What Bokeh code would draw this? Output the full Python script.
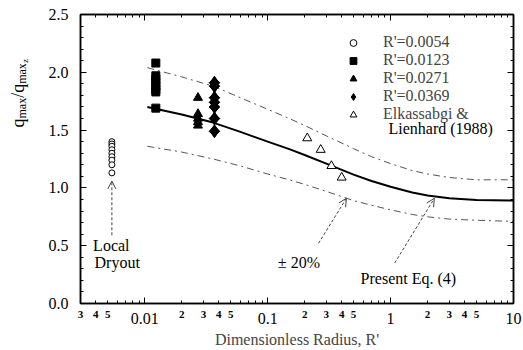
import math
from bokeh.plotting import figure
from bokeh.layouts import row
from bokeh.models import (Range1d, LinearAxis, LogAxis, FixedTicker, Legend, LegendItem,
                          Label, Arrow, OpenHead, NumeralTickFormatter, PrintfTickFormatter,
                          CustomJSTickFormatter)
from bokeh.embed import file_html
from bokeh.resources import INLINE

FONT = "Liberation Serif"

# ---- data ----
r_a = [0.0054] * 9
q_a = [1.40, 1.38, 1.36, 1.33, 1.30, 1.27, 1.24, 1.20, 1.13]

r_b = [0.0123] * 8
q_b = [2.08, 1.97, 1.94, 1.91, 1.88, 1.85, 1.83, 1.69]

r_c = [0.0271] * 5
q_c = [1.78, 1.64, 1.60, 1.57, 1.54]

r_d = [0.0369] * 7
q_d = [1.91, 1.88, 1.78, 1.74, 1.70, 1.60, 1.49]

r_e = [0.21, 0.27, 0.33, 0.40]
q_e = [1.43, 1.33, 1.19, 1.09]

r_curve = [0.0105, 0.02, 0.036, 0.06, 0.1, 0.15, 0.2, 0.3, 0.5, 0.7, 1.0, 1.5, 2.0, 3.0, 5.0, 10.0]
q_curve = [1.70, 1.635, 1.565, 1.485, 1.40, 1.335, 1.285, 1.21, 1.115, 1.06, 1.01, 0.96, 0.935, 0.91, 0.895, 0.89]
q_upper = [2.04, 1.96, 1.88, 1.78, 1.68, 1.60, 1.54, 1.45, 1.34, 1.27, 1.21, 1.15, 1.12, 1.09, 1.07, 1.07]
q_lower = [1.36, 1.31, 1.25, 1.19, 1.12, 1.07, 1.03, 0.97, 0.89, 0.85, 0.81, 0.77, 0.75, 0.73, 0.72, 0.71]

legend_labels = ["R'=0.0054", "R'=0.0123", "R'=0.0271", "R'=0.0369", "Elkassabgi &"]
legend_label_2 = "Lienhard (1988)"

x_major = [0.01, 0.1, 1, 10]
x_minor = [m * d for d in [0.001, 0.01, 0.1, 1] for m in range(2, 10) if 0.003 <= m * d <= 10]
x_minor_labelled = [0.003, 0.004, 0.005, 0.02, 0.03, 0.04, 0.05, 0.2, 0.3, 0.4, 0.5, 2, 3, 4, 5]
x_minor_text = ["3", "4", "5", "2", "3", "4", "5", "2", "3", "4", "5", "2", "3", "4", "5"]
y_major = [0.0, 0.5, 1.0, 1.5, 2.0, 2.5]
y_minor = [i / 10 for i in range(0, 26)]

# ---- narrow strip holding the y axis title q_max / q_max_z ----
lab = figure(width=30, height=350, output_backend="svg", toolbar_location=None,
             x_axis_location=None, y_axis_location=None,
             min_border_left=0, min_border_right=0, min_border_top=0, min_border_bottom=0,
             outline_line_color=None, x_range=Range1d(0, 1), y_range=Range1d(0, 1))
lab.grid.visible = False
ylab = [("q", "18px", 0, 9.0), ("max", "12px", 4, 20.7), ("/", "18px", 0, 5.0),
        ("q", "18px", 0, 9.0), ("max", "12px", 4, 20.7), ("z", "9px", 7, 4.0)]
ypos = 176
for t, fs, dx, adv in ylab:
    lab.add_layout(Label(x=17 + dx, y=ypos, x_units="screen", y_units="screen", text=t,
                         angle=math.pi / 2, text_align="left", text_baseline="alphabetic",
                         text_font=FONT, text_font_size=fs, text_color="black"))
    ypos += adv

# ---- main plot ----
p = figure(width=493, height=350, x_axis_type="log",
           x_range=Range1d(0.003, 10), y_range=Range1d(0, 2.5),
           output_backend="svg", toolbar_location=None,
           min_border_left=50, min_border_right=10, min_border_top=14, min_border_bottom=47,
           outline_line_color="black", outline_line_width=1.5)
p.grid.visible = False

xa = p.xaxis[0]
xa.ticker = FixedTicker(ticks=x_major, minor_ticks=x_minor)
xa.formatter = NumeralTickFormatter(format="0.[00]")
ya = p.yaxis[0]
ya.ticker = FixedTicker(ticks=y_major, minor_ticks=y_minor)
ya.formatter = PrintfTickFormatter(format="%.1f")
for ax in (xa, ya):
    ax.major_tick_in = 6
    ax.major_tick_out = 0
    ax.minor_tick_in = 3
    ax.minor_tick_out = 0
    ax.axis_line_width = 1.5
    ax.major_label_text_font = FONT
    ax.major_label_text_font_size = "16px"
    ax.major_label_text_color = "black"
ya.major_label_standoff = 12
xa.major_label_standoff = 9

# second bottom axis carrying the small in-decade digits
xb = LogAxis(ticker=FixedTicker(ticks=x_minor_labelled, minor_ticks=[]),
             formatter=CustomJSTickFormatter(args=dict(vals=x_minor_labelled, txt=x_minor_text),
                 code="for (let i = 0; i < vals.length; i++) { if (Math.abs(vals[i] - tick) / vals[i] < 1e-6) return txt[i]; } return '';"),
             axis_line_color=None, major_tick_in=0, major_tick_out=0, minor_tick_in=0, minor_tick_out=0,
             major_label_standoff=-16, major_label_text_font=FONT, major_label_text_font_size="11px",
             major_label_text_font_style="bold", major_label_text_color="black")
xb.axis_label = "Dimensionless Radius, R'"
xb.axis_label_text_font = FONT
xb.axis_label_text_font_size = "16px"
xb.axis_label_text_font_style = "normal"
xb.axis_label_standoff = 10
p.add_layout(xb, "below")

top = LogAxis(ticker=FixedTicker(ticks=x_major, minor_ticks=x_minor))
right = LinearAxis(ticker=FixedTicker(ticks=y_major, minor_ticks=y_minor))
for ax in (top, right):
    ax.major_tick_in = 6
    ax.major_tick_out = 0
    ax.minor_tick_in = 3
    ax.minor_tick_out = 0
    ax.axis_line_width = 1.5
    ax.formatter = CustomJSTickFormatter(code="return ''")
    ax.major_label_standoff = 0
p.add_layout(top, "above")
p.add_layout(right, "right")

# lines
p.line(r_curve, q_upper, line_color="#555555", line_width=1, line_dash="7 4 2 4")
p.line(r_curve, q_lower, line_color="#555555", line_width=1, line_dash="7 4 2 4")
p.line(r_curve, q_curve, line_color="black", line_width=2)

# points
ra = p.scatter(r_a, q_a, marker="circle", size=6, fill_color="white", line_color="black", line_width=1)
rb = p.scatter(r_b, q_b, marker="square", size=8, fill_color="black", line_color="black")
rc = p.scatter(r_c, q_c, marker="triangle", size=9, fill_color="black", line_color="black")
# diamond = narrow diamond + rotated square on the same points (widens the shape)
rd = p.scatter(r_d, q_d, marker="diamond", size=13, fill_color="black", line_color="black")
p.scatter(r_d, q_d, marker="square", angle=math.pi / 4, size=7.5, fill_color="black", line_color="black")
re = p.scatter(r_e, q_e, marker="triangle", size=9, fill_color="white", line_color="black", line_width=1)

legend = Legend(items=[LegendItem(label=l, renderers=[r]) for l, r in zip(legend_labels, [ra, rb, rc, rd, re])],
                location=(263, 180), padding=0, margin=0, spacing=0, label_standoff=20,
                glyph_width=20, glyph_height=17, label_height=17,
                label_text_font=FONT, label_text_font_size="16px",
                border_line_color=None, background_fill_alpha=0)
p.add_layout(legend)
p.add_layout(Label(x=308, y=175, x_units="screen", y_units="screen", text=legend_label_2,
                   text_baseline="middle", text_font=FONT, text_font_size="16px", text_color="black"))

# annotations
arrow_kw = dict(line_color="#444444", line_width=1, line_dash="3 2")
p.add_layout(Arrow(end=OpenHead(size=8, line_color="#444444", line_width=1),
                   x_start=0.0054, y_start=0.59, x_end=0.0054, y_end=1.06, **arrow_kw))
p.add_layout(Arrow(end=OpenHead(size=8, line_color="#444444", line_width=1),
                   x_start=0.259, y_start=0.52, x_end=0.437, y_end=0.91, **arrow_kw))
p.add_layout(Arrow(end=OpenHead(size=8, line_color="#444444", line_width=1),
                   x_start=1.08, y_start=0.35, x_end=2.27, y_end=0.91, **arrow_kw))

txt_kw = dict(text_font=FONT, text_font_size="16px", text_color="black", text_baseline="middle")
p.add_layout(Label(x=0.0038, y=0.50, text="Local", **txt_kw))
p.add_layout(Label(x=0.0039, y=0.355, text="Dryout", **txt_kw))
p.add_layout(Label(x=0.121, y=0.355, text="± 20%", **txt_kw))
p.add_layout(Label(x=0.57, y=0.216, text="Present Eq. (4)", **txt_kw))

layout = row(lab, p, spacing=0)
open("out.html", "w").write(file_html(layout, INLINE))
